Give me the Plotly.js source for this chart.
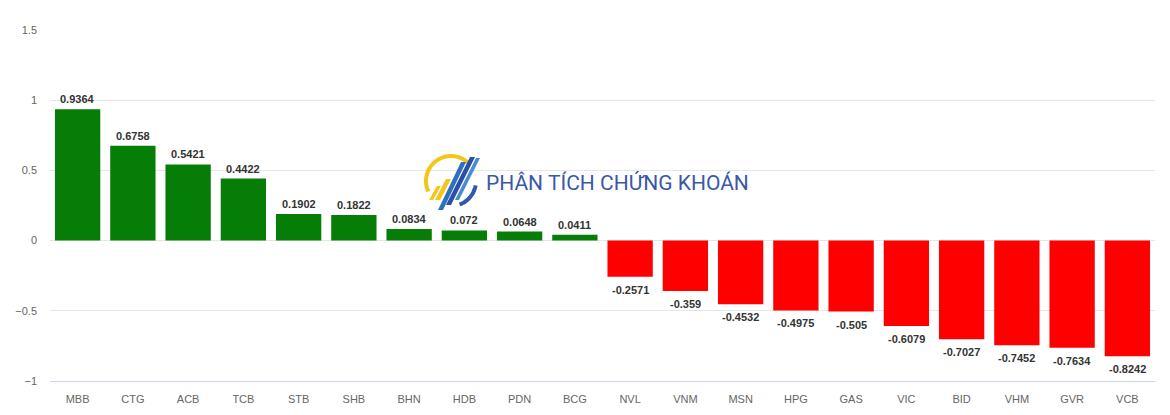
<!DOCTYPE html>
<html>
<head>
<meta charset="utf-8">
<script src="https://cdn.plot.ly/plotly-3.0.1.min.js"></script>
<style>html,body{margin:0;padding:0;background:#fff;}#chart{width:1170px;height:415px;}</style>
</head>
<body>
<div id="chart"></div>
<script>
const categories = ["MBB","CTG","ACB","TCB","STB","SHB","BHN","HDB","PDN","BCG","NVL","VNM","MSN","HPG","GAS","VIC","BID","VHM","GVR","VCB"];
const values = [0.9364,0.6758,0.5421,0.4422,0.1902,0.1822,0.0834,0.072,0.0648,0.0411,-0.2571,-0.359,-0.4532,-0.4975,-0.505,-0.6079,-0.7027,-0.7452,-0.7634,-0.8242];
const yTicks = [-1,-0.5,0,0.5,1,1.5];
const yTickLabels = ["−1","−0.5","0","0.5","1","1.5"];

const W = 1170, H = 415, L = 50, R = 15, T = 30, B = 34;
const pw = W - L - R, ph = H - T - B;
function px(x){ return (x - L) / pw; }
function py(y){ return (H - B - y) / ph; }
function poly(pts, close){
  return pts.map((p,i)=> (i?'L':'M') + px(p[0]).toFixed(5) + ',' + py(p[1]).toFixed(5)).join(' ') + (close?' Z':'');
}
function arc(cx, cy, r, a0, a1){
  const pts = [];
  const n = 30;
  for(let i=0;i<=n;i++){
    const a = (a0 + (a1-a0)*i/n) * Math.PI/180;
    pts.push([cx + r*Math.cos(a), cy - r*Math.sin(a)]);
  }
  return pts;
}
const cx = 451, cy = 181, r = 25;
const shapes = [
  {type:'path', xref:'paper', yref:'paper', path: poly(arc(cx,cy,r,205,45)), line:{color:'#f5c518', width:4}},
  {type:'path', xref:'paper', yref:'paper', path: poly(arc(cx,cy,r,290,350)), line:{color:'#2f56b0', width:4}},
  {type:'path', xref:'paper', yref:'paper', path: poly([[429,200],[437,186],[441,186],[433,200]],true), fillcolor:'#f5c518', line:{width:0}},
  {type:'path', xref:'paper', yref:'paper', path: poly([[435,200],[446,179],[451,179],[440,200]],true), fillcolor:'#f5c518', line:{width:0}},
  {type:'path', xref:'paper', yref:'paper', path: poly([[438,210],[461,162],[466,162],[443,210]],true), fillcolor:'#2f6fc0', line:{width:0}},
  {type:'path', xref:'paper', yref:'paper', path: poly([[446,205],[470,157],[475,157],[451,205]],true), fillcolor:'#2a4fa8', line:{width:0}},
  {type:'path', xref:'paper', yref:'paper', path: poly([[455,200],[476,158],[480,158],[459,200]],true), fillcolor:'#4a8ad0', line:{width:0}}
];

const trace = {
  type:'bar',
  x: categories,
  y: values,
  marker:{color: values.map(v => v >= 0 ? '#067d06' : '#ff0000'), line:{width:0}},
  hoverinfo:'x+y'
};

const valueLabels = categories.map((c, i) => ({
  x: c, y: values[i], xref:'x', yref:'y',
  text: String(values[i]), showarrow:false,
  yanchor: values[i] >= 0 ? 'bottom' : 'top',
  yshift: values[i] >= 0 ? 2 : -5,
  font:{family:'"Liberation Sans", Arial, sans-serif', size:11, color:'#333333', weight:'bold'}
}));

const layout = {
  width:W, height:H,
  margin:{l:L, r:R, t:T, b:B, pad:0},
  paper_bgcolor:'#ffffff', plot_bgcolor:'#ffffff',
  showlegend:false,
  bargap:0.18,
  font:{family:'"Liberation Sans", Arial, sans-serif', size:11, color:'#666666'},
  xaxis:{
    type:'category', showgrid:false, showline:true, linecolor:'#ccd6eb', linewidth:1,
    ticks:'', ticklabelstandoff:8, tickfont:{size:11, color:'#666666'}, automargin:false, fixedrange:true
  },
  yaxis:{
    range:[-1,1.5], tickvals:yTicks, ticktext:yTickLabels,
    showgrid:true, gridcolor:'#e6e6e6', gridwidth:1,
    zeroline:true, zerolinecolor:'#e6e6e6', zerolinewidth:1,
    showline:false, ticks:'', ticklabelstandoff:12,
    tickfont:{size:11, color:'#666666'}, automargin:false, fixedrange:true
  },
  shapes: shapes,
  annotations:[{
    xref:'paper', yref:'paper', x: px(484), y: py(183), xanchor:'left', yanchor:'middle',
    text:'PHÂN TÍCH CHỨNG KHOÁN', showarrow:false,
    font:{family:'Roboto, "Open Sans", sans-serif', size:21, color:'#3b58a8'}
  }].concat(valueLabels)
};

Plotly.newPlot('chart', [trace], layout, {displayModeBar:false, staticPlot:true});
</script>
</body>
</html>
